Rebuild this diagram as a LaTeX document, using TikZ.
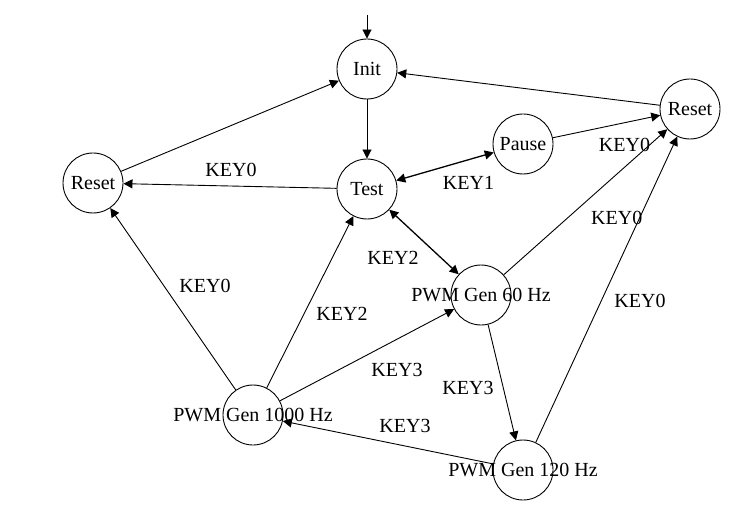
\documentclass[tikz,border=0pt]{standalone}
\usepackage{fontspec}
\setmainfont{Liberation Serif}
\usetikzlibrary{arrows.meta}
\begin{document}
\begin{tikzpicture}[x=1pt,y=-1pt,
  st/.style={circle,draw,line width=0.9pt,minimum size=60pt,inner sep=0pt},
  lbl/.style={inner sep=0pt,font=\fontsize{20}{24}\selectfont},
  tr/.style={line width=0.9pt,-{Triangle[length=9pt,width=9pt]}},
  bi/.style={line width=1.3pt,{Triangle[length=9pt,width=9pt]}-{Triangle[length=9pt,width=9pt]}},
  every label/.style={font=\fontsize{20}{24}\selectfont,inner sep=0pt}]
\useasboundingbox (0,0) rectangle (738,529);
\node[st,label=center:Init] (init) at (367,69) {};
\node[st,label=center:Reset] (resetr) at (690,109) {};
\node[st,label=center:Pause] (pause) at (523,144) {};
\node[st,label=center:Reset] (resetl) at (93,183) {};
\node[st,label=center:Test] (test) at (367,189) {};
\node[st,label=center:{PWM Gen 60 Hz}] (p60) at (481,295) {};
\node[st,label=center:{PWM Gen 1000 Hz}] (p1000) at (253,415) {};
\node[st,label=center:{PWM Gen 120 Hz}] (p120) at (523,470) {};
\coordinate (start) at (367,15);

\draw[tr] (start) -- (init);
\draw[tr] (init) -- (test);
\draw[tr] (resetl) -- (init);
\draw[tr] (resetr) -- (init);
\draw[tr] (test) -- (resetl);
\draw[bi] (test) -- (pause);
\draw[tr] (pause) -- (resetr);
\draw[bi] (test) -- (p60);
\draw[tr] (p60) -- (resetr);
\draw[tr] (p120) -- (resetr);
\draw[tr] (p1000) -- (resetl);
\draw[tr] (p1000) -- (test);
\draw[tr] (p1000) -- (p60);
\draw[tr] (p60) -- (p120);
\draw[tr] (p120) -- (p1000);

\node[lbl] (k1) at (231,170) {KEY0};
\node[lbl] (k2) at (468.5,183) {KEY1};
\node[lbl] (k3) at (624.5,144.5) {KEY0};
\node[lbl] (k4) at (616.7,218) {KEY0};
\node[lbl] (k5) at (640,301) {KEY0};
\node[lbl] (k6) at (393,258) {KEY2};
\node[lbl] (k7) at (205,285.5) {KEY0};
\node[lbl] (k8) at (342,313.5) {KEY2};
\node[lbl] (k9) at (397,370) {KEY3};
\node[lbl] (k10) at (468,388) {KEY3};
\node[lbl] (k11) at (405,425.5) {KEY3};
\end{tikzpicture}
\end{document}
